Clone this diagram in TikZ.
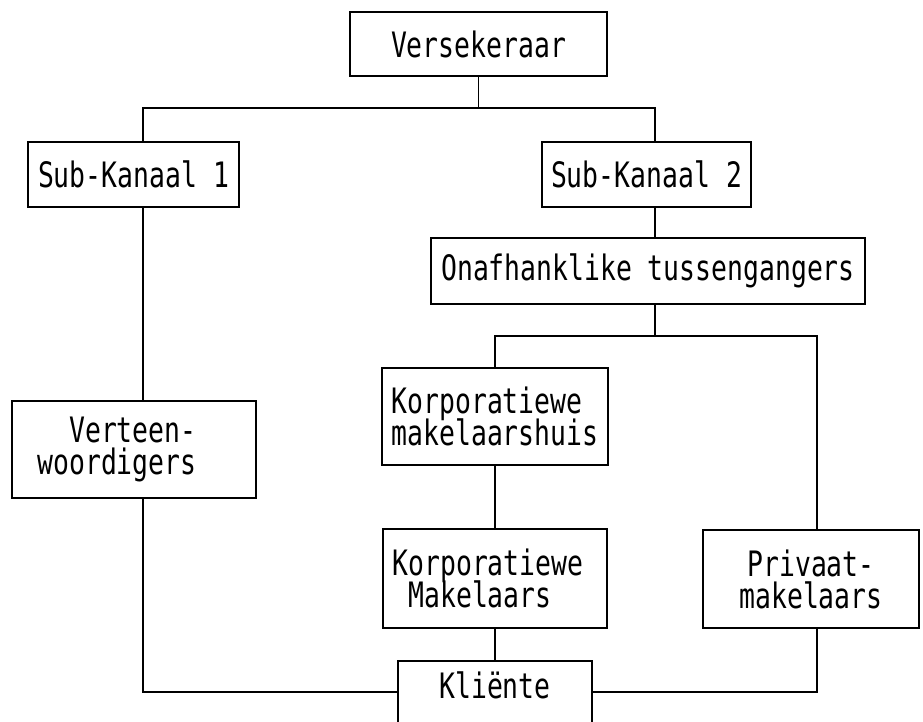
\documentclass[tikz,border=0pt]{standalone}
\usepackage{fontspec}
\newfontfamily\boxfont[FakeStretch=0.755]{DejaVu Sans Mono}
\begin{document}
\begin{tikzpicture}[x=1pt,y=-1pt,
  box/.style={draw, line width=1.9pt, inner sep=0pt,
    font={\boxfont\fontsize{35pt}{32pt}\selectfont\lineskiplimit=-100pt}},
  conn/.style={line width=1.9pt}]
\fill[white] (0,0) rectangle (923,722);
\useasboundingbox (0,0) rectangle (923,722);
% nodes
\node[box, minimum width=257pt, minimum height=64pt] (vers) at (478.5,44) {Versekeraar};
\node[box, minimum width=211pt, minimum height=65pt] (sk1) at (133.5,174.5) {Sub-Kanaal 1};
\node[box, minimum width=209pt, minimum height=65pt] (sk2) at (646.5,174.5) {Sub-Kanaal 2};
\node[box, minimum width=434pt, minimum height=66pt] (onaf) at (648,271) {Onafhanklike tussengangers};
\node[box, minimum width=244pt, minimum height=97pt, align=right] (verteen) at (134,449.5)
  {Verteen-\rule{34pt}{0pt}\\woordigers\rule{34pt}{0pt}};
\node[box, minimum width=226pt, minimum height=97pt, align=left] (kmh) at (495,416.5)
  {Korporatiewe\\makelaarshuis};
\node[box, minimum width=224pt, minimum height=99pt, align=left] (kmak) at (495,578.5)
  {Korporatiewe\rule{14pt}{0pt}\\~Makelaars};
\node[box, minimum width=216pt, minimum height=98pt, align=center] (priv) at (811,579)
  {Privaat-\\makelaars};
\node[box, minimum width=194pt, minimum height=80pt, text depth=32pt] (klient) at (495,701)
  {Kliënte};
% junction coordinates
\coordinate (tl) at (143,108);
\coordinate (tr) at (655,108);
\coordinate (ml) at (495,336);
\coordinate (mr) at (817,336);
\coordinate (bl) at (143,692);
\coordinate (br) at (817,692);
% connectors
\draw[conn] (vers.south) -- (vers.south |- tl);
\draw[conn] (sk1.north -| tl) -- (tl) -- (tr) -- (sk2.north -| tr);
\draw[conn] (sk1.south -| tl) -- (verteen.north -| tl);
\draw[conn] (sk2.south -| tr) -- (onaf.north -| tr);
\draw[conn] (onaf.south -| tr) -- (tr |- ml);
\draw[conn] (kmh.north -| ml) -- (ml) -- (mr) -- (priv.north -| mr);
\draw[conn] (kmh.south) -- (kmak.north);
\draw[conn] (kmak.south) -- (klient.north);
\draw[conn] (verteen.south -| bl) -- (bl) -- (bl -| klient.west);
\draw[conn] (klient.east |- br) -- (br) -- (priv.south -| br);
\end{tikzpicture}
\end{document}
